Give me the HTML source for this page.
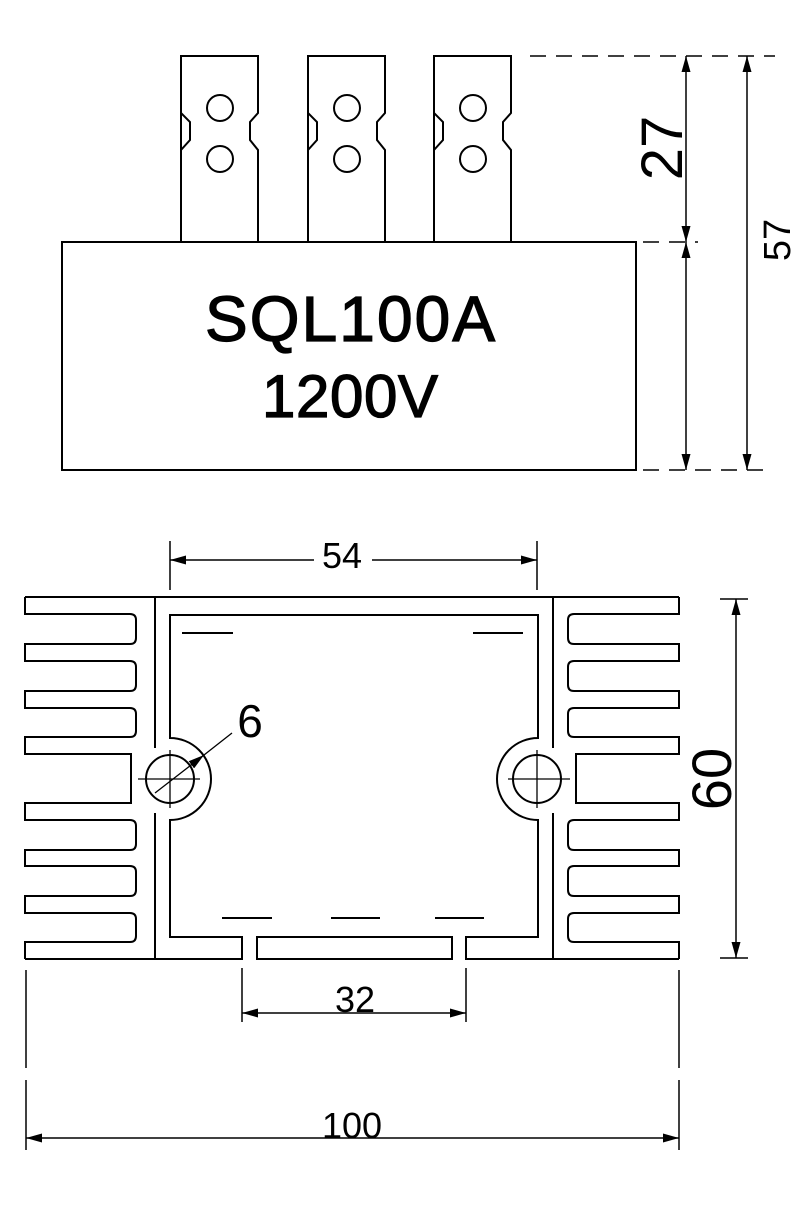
<!DOCTYPE html>
<html><head><meta charset="utf-8"><style>html,body{margin:0;padding:0;background:#fff}</style></head><body>
<svg width="801" height="1200" viewBox="0 0 801 1200" xmlns="http://www.w3.org/2000/svg" font-family="Liberation Sans, sans-serif">
<defs>
<marker id="a" viewBox="0 0 16 9" refX="16" refY="4.5" markerWidth="16" markerHeight="9" markerUnits="userSpaceOnUse" orient="auto-start-reverse"><path d="M0,0 L16,4.5 L0,9 Z" fill="#000"/></marker>
</defs>
<g fill="none" stroke="#000" stroke-width="2">
<g><path d="M181,242 V56 H258 V113 L250,122 V140 L258,150 V242"/><path d="M181,56 V113 L190,122 V140 L181,150 V242"/><circle cx="220" cy="108" r="13"/><circle cx="220" cy="159" r="13"/></g>
<g transform="translate(127,0)"><path d="M181,242 V56 H258 V113 L250,122 V140 L258,150 V242"/><path d="M181,56 V113 L190,122 V140 L181,150 V242"/><circle cx="220" cy="108" r="13"/><circle cx="220" cy="159" r="13"/></g>
<g transform="translate(253,0)"><path d="M181,242 V56 H258 V113 L250,122 V140 L258,150 V242"/><path d="M181,56 V113 L190,122 V140 L181,150 V242"/><circle cx="220" cy="108" r="13"/><circle cx="220" cy="159" r="13"/></g>
<rect x="62" y="242" width="574" height="228" fill="#fff"/>
</g>
<text x="350" y="341" font-size="64" text-anchor="middle" textLength="290" stroke="#000" stroke-width="1.3">SQL100A</text>
<text x="350" y="417" font-size="60" text-anchor="middle" textLength="176" stroke="#000" stroke-width="1.3">1200V</text>

<g stroke="#000" stroke-width="1.5" fill="none">
<path d="M530,56 H775 M643,242 H698 M643,470 H772" stroke-dasharray="16,10"/>
<line x1="686" y1="56" x2="686" y2="242" marker-start="url(#a)" marker-end="url(#a)"/>
<line x1="686" y1="242" x2="686" y2="470" marker-start="url(#a)" marker-end="url(#a)"/>
<line x1="747" y1="56" x2="747" y2="470" marker-start="url(#a)" marker-end="url(#a)"/>
</g>
<text transform="translate(682,148) rotate(-90)" font-size="58" text-anchor="middle">27</text>
<text transform="translate(790,240) rotate(-90)" font-size="38" text-anchor="middle">57</text>

<g fill="none" stroke="#000" stroke-width="2">
<path d="M25,597 V614 H130 Q136,614 136,620 V638 Q136,644 130,644 H25 V661 H130 Q136,661 136,667 V685 Q136,691 130,691 H25 V708 H130 Q136,708 136,714 V731 Q136,737 130,737 H25 V754 H131 V803 H25 V820 H130 Q136,820 136,826 V844 Q136,850 130,850 H25 V866 H130 Q136,866 136,872 V890 Q136,896 130,896 H25 V913 H130 Q136,913 136,919 V936 Q136,942 130,942 H25 V959"/>
<g transform="translate(704,0) scale(-1,1)">
<path d="M25,597 V614 H130 Q136,614 136,620 V638 Q136,644 130,644 H25 V661 H130 Q136,661 136,667 V685 Q136,691 130,691 H25 V708 H130 Q136,708 136,714 V731 Q136,737 130,737 H25 V754 H128 V803 H25 V820 H130 Q136,820 136,826 V844 Q136,850 130,850 H25 V866 H130 Q136,866 136,872 V890 Q136,896 130,896 H25 V913 H130 Q136,913 136,919 V936 Q136,942 130,942 H25 V959"/>
</g>
<path d="M25,597 H679 M25,959 H242 V937 H170 V820 A41,41 0 0 0 170,738 V615 H538 V738 A41,41 0 0 0 538,820 V937 H466 V959 H679 M257,959 V937 H452 V959 Z"/>
<path d="M155,597 V748 M155,813 V959 M553,597 V748 M553,813 V959"/>
<circle cx="170" cy="779" r="24"/><circle cx="537" cy="779" r="24"/>
</g>
<g stroke="#000" stroke-width="1.3">
<path d="M138,779 H200 M170,750 V808 M508,779 H570 M537,750 V808"/>
<path d="M182,633 H233 M473,633 H523 M222,918 H272 M331,918 H380 M435,918 H484" stroke-width="2"/>
<line x1="155" y1="793" x2="204" y2="755" marker-end="url(#a)"/>
<line x1="204" y1="755" x2="232" y2="733"/>
</g>
<text x="250" y="737" font-size="46" text-anchor="middle">6</text>

<g stroke="#000" stroke-width="1.5" fill="none">
<path d="M170,541 V590 M537,541 V590"/>
<line x1="170" y1="560" x2="537" y2="560" marker-start="url(#a)" marker-end="url(#a)"/>
<path d="M720,599 H748 M720,958 H748"/>
<line x1="736" y1="599" x2="736" y2="958" marker-start="url(#a)" marker-end="url(#a)"/>
<path d="M242,968 V1022 M466,968 V1022"/>
<line x1="242" y1="1013" x2="466" y2="1013" marker-start="url(#a)" marker-end="url(#a)"/>
<path d="M26,970 V1068 M26,1080 V1150 M679,970 V1068 M679,1080 V1150"/>
<line x1="26" y1="1138" x2="679" y2="1138" marker-start="url(#a)" marker-end="url(#a)"/>
</g>
<rect x="314" y="540" width="58" height="36" fill="#fff"/>
<text x="342" y="568" font-size="36" text-anchor="middle">54</text>
<text transform="translate(731,779) rotate(-90)" font-size="56" text-anchor="middle">60</text>
<text x="355" y="1012" font-size="36" text-anchor="middle">32</text>
<text x="352" y="1138" font-size="36" text-anchor="middle">100</text>
</svg>
</body></html>
